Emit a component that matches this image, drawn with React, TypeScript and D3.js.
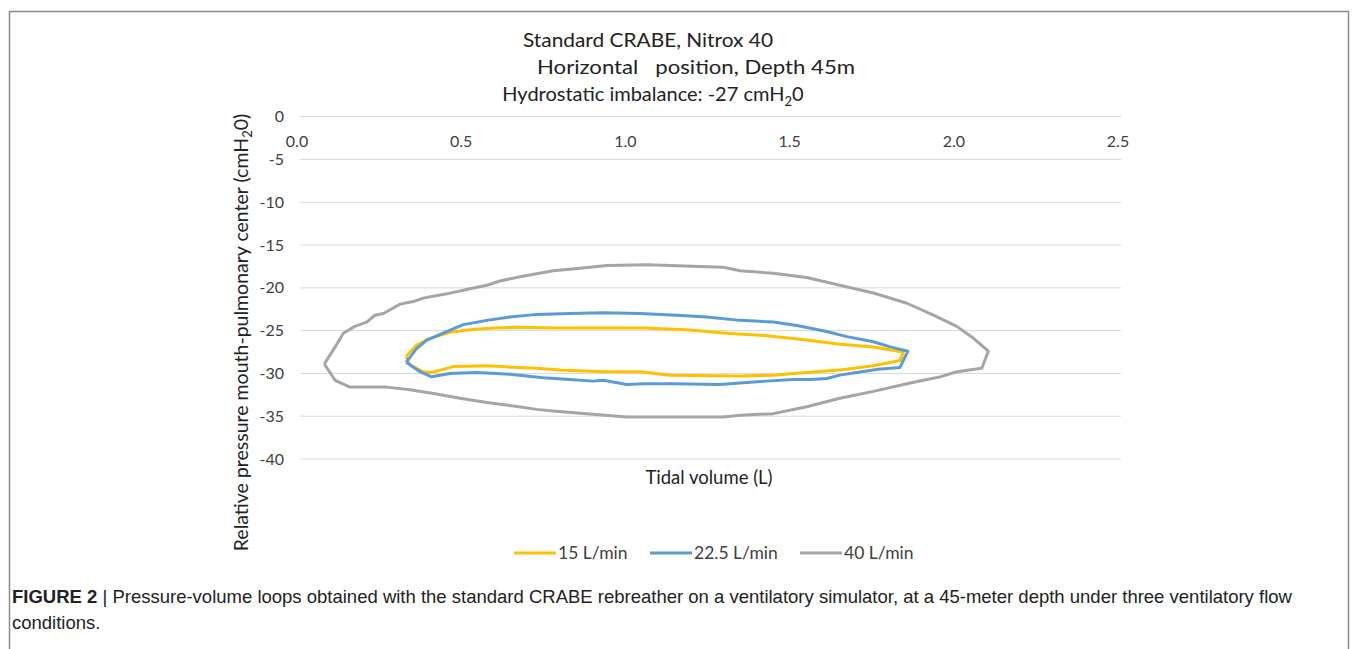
import React from "react";
import * as d3 from "d3";

const titleLines = ["Standard CRABE, Nitrox 40", "Horizontal   position, Depth 45m"];
const xTicks = [0, 0.5, 1.0, 1.5, 2.0, 2.5];
const yTicks = [0, -5, -10, -15, -20, -25, -30, -35, -40];
const seriesNames = ["15 L/min", "22.5 L/min", "40 L/min"];
const seriesColors = ["#FFC000", "#5B9BD5", "#A5A5A5"];

// 15 L/min loop (x: tidal volume L, y: cmH2O)
const loop15: [number, number][] = [
  [0.323, -28.0], [0.355, -26.7], [0.396, -25.9], [0.457, -25.2], [0.518, -24.9],
  [0.589, -24.7], [0.66, -24.6], [0.792, -24.7], [0.924, -24.7], [1.046, -24.7],
  [1.178, -24.9], [1.299, -25.3], [1.421, -25.6], [1.543, -26.1], [1.644, -26.6],
  [1.746, -26.9], [1.837, -27.5], [1.827, -28.5], [1.746, -29.1], [1.644, -29.6],
  [1.543, -29.9], [1.441, -30.2], [1.34, -30.3], [1.127, -30.2], [1.035, -29.8],
  [0.924, -29.8], [0.792, -29.6], [0.721, -29.4], [0.66, -29.3], [0.569, -29.1],
  [0.467, -29.2], [0.401, -29.9], [0.375, -29.8], [0.335, -29.0], [0.323, -28.0],
];

// 22.5 L/min loop
const loop225: [number, number][] = [
  [0.323, -28.7], [0.355, -27.1], [0.386, -26.1], [0.436, -25.3], [0.497, -24.3],
  [0.569, -23.8], [0.639, -23.4], [0.721, -23.1], [0.822, -23.0], [0.924, -22.9],
  [1.035, -23.0], [1.147, -23.2], [1.239, -23.4], [1.34, -23.8], [1.441, -24.0],
  [1.513, -24.4], [1.604, -25.1], [1.665, -25.7], [1.746, -26.3], [1.797, -26.9],
  [1.851, -27.4], [1.827, -29.3], [1.76, -29.5], [1.695, -29.9], [1.644, -30.2],
  [1.604, -30.6], [1.553, -30.7], [1.502, -30.7], [1.421, -30.9], [1.35, -31.1],
  [1.279, -31.3], [1.137, -31.2], [1.046, -31.2], [0.995, -31.3], [0.924, -30.8],
  [0.893, -30.9], [0.822, -30.7], [0.741, -30.5], [0.639, -30.1], [0.538, -29.9],
  [0.457, -30.0], [0.401, -30.4], [0.365, -29.8], [0.335, -29.0], [0.323, -28.7],
];

// 40 L/min loop
const loop40: [number, number][] = [
  [0.074, -28.9], [0.107, -26.9], [0.132, -25.3], [0.167, -24.5], [0.203, -24.0],
  [0.228, -23.2], [0.254, -23.0], [0.305, -21.9], [0.345, -21.6], [0.375, -21.2],
  [0.447, -20.7], [0.518, -20.1], [0.569, -19.7], [0.609, -19.2], [0.67, -18.7],
  [0.771, -18.0], [0.853, -17.7], [0.934, -17.4], [1.056, -17.3], [1.218, -17.5],
  [1.289, -17.6], [1.34, -18.0], [1.441, -18.3], [1.543, -18.8], [1.644, -19.7],
  [1.746, -20.6], [1.848, -21.8], [1.929, -23.2], [2.0, -24.5], [2.051, -25.9],
  [2.096, -27.4], [2.076, -29.4], [2.0, -29.8], [1.949, -30.4], [1.898, -30.8],
  [1.848, -31.2], [1.746, -32.1], [1.644, -32.9], [1.543, -33.9], [1.441, -34.7],
  [1.34, -34.9], [1.289, -35.1], [1.188, -35.1], [1.035, -35.1], [0.995, -35.1],
  [0.873, -34.7], [0.771, -34.4], [0.721, -34.2], [0.65, -33.8], [0.569, -33.4],
  [0.487, -32.9], [0.416, -32.4], [0.335, -31.9], [0.264, -31.6], [0.152, -31.6],
  [0.107, -30.8], [0.074, -28.9],
];

const loops = [loop15, loop225, loop40];

export default function App() {
  const x = d3.scaleLinear().domain([0, 2.5]).range([300, 1121]);
  const y = d3.scaleLinear().domain([-40, 0]).range([459, 116.7]);
  const line = d3
    .line<[number, number]>()
    .x((d) => x(d[0]))
    .y((d) => y(d[1]))
    .curve(d3.curveLinear);

  const chartFont = "Lato, 'Open Sans', sans-serif";
  const capFont = "'Liberation Sans', Arial, sans-serif";
  const legendX = [514, 650, 800];

  return (
    <svg
      width={1357}
      height={649}
      style={{ position: "absolute", left: 0, top: 0, background: "#fff" }}
      fontFamily={chartFont}
    >
      <rect x={9.5} y={11.5} width={1339} height={700} fill="none" stroke="#8a8a8a" strokeWidth={1.5} />

      {/* title */}
      <text x={648} y={47} textAnchor="middle" fontSize={20} fill="#222" textLength={250} lengthAdjust="spacingAndGlyphs">{titleLines[0]}</text>
      <text x={696} y={74} textAnchor="middle" fontSize={20} fill="#222" style={{ whiteSpace: "pre" }} textLength={318} lengthAdjust="spacingAndGlyphs">{titleLines[1]}</text>
      <text x={653} y={101} textAnchor="middle" fontSize={20} fill="#222">
        Hydrostatic imbalance: -27 cmH<tspan fontSize={13} dy={5}>2</tspan><tspan dy={-5}>0</tspan>
      </text>

      {/* gridlines */}
      {yTicks.map((t) => (
        <line key={"g" + t} x1={300} x2={1121} y1={y(t)} y2={y(t)} stroke="#D9D9D9" strokeWidth={1} />
      ))}

      {/* y tick labels */}
      {yTicks.map((t) => (
        <text key={"yl" + t} x={284} y={y(t) + 5.5} textAnchor="end" fontSize={16} fill="#404040">{t}</text>
      ))}

      {/* x tick labels */}
      {xTicks.map((t) => (
        <text key={"xl" + t} x={x(t) - 3} y={147} textAnchor="middle" fontSize={16} fill="#404040">{t.toFixed(1)}</text>
      ))}

      {/* loops */}
      {loops.map((l, i) => (
        <path key={"l" + i} d={line(l) || ""} fill="none" stroke={seriesColors[i]} strokeWidth={3} strokeLinejoin="round" />
      ))}

      {/* axis titles */}
      <text x={709} y={484} textAnchor="middle" fontSize={18.5} fill="#222">Tidal volume (L)</text>
      <text transform="translate(248,332.5) rotate(-90)" textAnchor="middle" fontSize={19.5} fill="#222">
        Relative pressure mouth-pulmonary center  (cmH<tspan fontSize={13} dy={4}>2</tspan><tspan dy={-4}>0)</tspan>
      </text>

      {/* legend */}
      {seriesNames.map((n, i) => (
        <g key={"lg" + i}>
          <line x1={legendX[i]} x2={legendX[i] + 42} y1={553} y2={553} stroke={seriesColors[i]} strokeWidth={3} />
          <text x={legendX[i] + 44} y={559} fontSize={17.5} fill="#404040">{n}</text>
        </g>
      ))}

      {/* caption */}
      <text x={12} y={603} fontFamily={capFont} fontSize={18.5} fill="#222">
        <tspan fontWeight="bold">FIGURE 2</tspan>
        <tspan> | </tspan>
        <tspan>Pressure-volume loops obtained with the standard CRABE rebreather on a ventilatory simulator, at a 45-meter depth under three ventilatory flow</tspan>
      </text>
      <text x={12} y={629} fontFamily={capFont} fontSize={18.5} fill="#222">conditions.</text>
    </svg>
  );
}
